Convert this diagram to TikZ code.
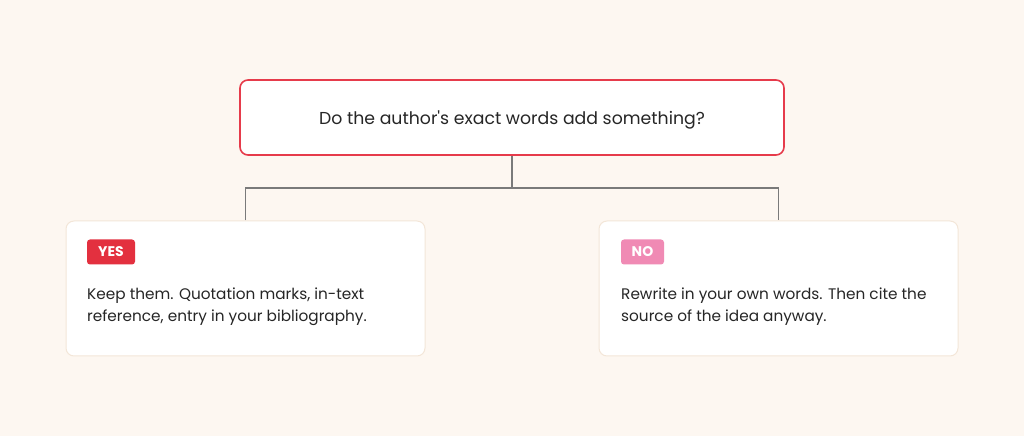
\documentclass[tikz,border=0pt]{standalone}
\usepackage{fontspec}
\setmainfont{Poppins}[Ligatures=TeXOff]
\usetikzlibrary{calc}
\definecolor{bg}{HTML}{FDF7F1}
\definecolor{redb}{HTML}{E63B4B}
\definecolor{beige}{HTML}{F3E6D8}
\definecolor{lineg}{HTML}{7A7A7A}
\definecolor{yesred}{HTML}{E3303F}
\definecolor{nopink}{HTML}{F08AB4}
\definecolor{txt}{HTML}{262626}
\tikzset{
  qbox/.style={draw=redb, line width=1.6pt, fill=white, rounded corners=8pt, minimum width=544pt, minimum height=75pt, inner sep=0pt},
  abox/.style={draw=beige, line width=1pt, fill=white, rounded corners=8pt, minimum width=359pt, minimum height=135pt, inner sep=0pt},
  badge/.style={rounded corners=3pt, minimum height=25pt, inner sep=0pt, text=white, font=\fontsize{14}{16}\selectfont\bfseries},
  body/.style={anchor=base west, inner sep=0pt, align=left, text=txt, font=\fontsize{15.3}{22}\selectfont},
  conn/.style={draw=lineg, line width=1.5pt}
}
\begin{document}
\begin{tikzpicture}[x=1pt,y=1pt]
\fill[bg] (0,0) rectangle (1024,436);
\useasboundingbox (0,0) rectangle (1024,436);
\node[qbox] (top) at (512,318.5) {};
\node[text=txt, anchor=base, inner sep=0pt, font=\fontsize{17.3}{20}\selectfont] (qt) at (512,311) {Do the author's exact words add something?};
\node[abox] (left) at (245.5,147.5) {};
\node[abox] (right) at (778.5,147.5) {};
\coordinate (j) at ($(top.south)+(0,-32)$);
\draw[conn] (top.south) -- (j);
\draw[conn] (left.north) |- (j) -| (right.north);
\node[badge, fill=yesred, minimum width=48pt] (yes) at (111,184) {YES};
\node[badge, fill=nopink, minimum width=43pt] (no) at (642.5,184) {NO};
\node[body] (lt) at (87,114) {Keep them. Quotation marks, in-text\\reference, entry in your bibliography.};
\node[body] (rt) at (621,114) {Rewrite in your own words. Then cite the\\source of the idea anyway.};
\end{tikzpicture}
\end{document}
